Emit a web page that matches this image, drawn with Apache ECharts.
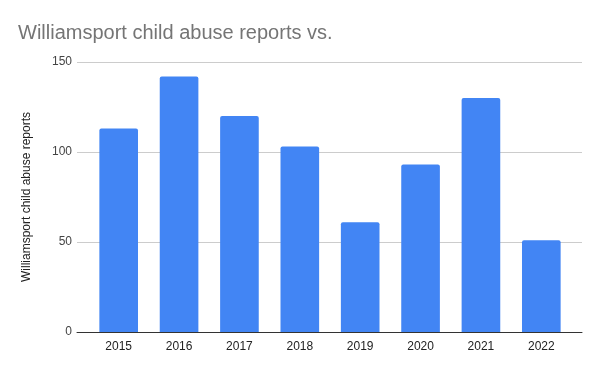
<!DOCTYPE html>
<html><head><meta charset="utf-8">
<script src="https://cdn.jsdelivr.net/npm/echarts@6/dist/echarts.min.js"></script>
<style>html,body{margin:0;padding:0;background:#fff}#c{width:600px;height:371px}</style>
</head><body><div id="c"></div>
<script>
var titleText = "Williamsport child abuse reports vs.";
var yAxisName = "Williamsport child abuse reports";
var categories = ["2015","2016","2017","2018","2019","2020","2021","2022"];
var reports = [113, 142, 120, 103, 61, 93, 130, 51];
var yMin = 0, yMax = 150, yStep = 50;

var chart = echarts.init(document.getElementById('c'));
var font = "Arial, 'Liberation Sans', sans-serif";
chart.setOption({
  animation: false,
  title: { text: titleText, left: 13, top: 18,
    textStyle: { fontFamily: font, fontSize: 20, fontWeight: 'normal', color: '#757575' } },
  grid: [
    { left: 77, right: 18, top: 62, bottom: 39, containLabel: false },
    { left: 88.5, right: 28.5, top: 62, bottom: 39, containLabel: false }
  ],
  xAxis: [
    { type: 'category', gridIndex: 0, data: categories, show: true,
      axisLine: { show: true, lineStyle: { color: '#333', width: 1 } },
      axisTick: { show: false }, axisLabel: { show: false } },
    { type: 'category', gridIndex: 1, data: categories,
      axisLine: { show: false }, axisTick: { show: false },
      axisLabel: { fontFamily: font, fontSize: 12, color: '#222', margin: 9 } }
  ],
  yAxis: [
    { type: 'value', gridIndex: 0, min: yMin, max: yMax, interval: yStep,
      name: yAxisName, nameLocation: 'middle', nameGap: 44, nameRotate: 90,
      nameTextStyle: { fontFamily: font, fontSize: 12, color: '#222' },
      axisLine: { show: false }, axisTick: { show: false },
      axisLabel: { fontFamily: font, fontSize: 12, color: '#444', margin: 5 },
      splitLine: { lineStyle: { color: '#ccc', width: 1 } } },
    { type: 'value', gridIndex: 1, min: yMin, max: yMax, interval: yStep, show: false,
      splitLine: { show: false } }
  ],
  series: [
    { type: 'bar', xAxisIndex: 1, yAxisIndex: 1, data: reports, barWidth: '64%',
      itemStyle: { color: '#4285F4', borderRadius: [2, 2, 0, 0] }, z: 1 }
  ]
});
</script></body></html>
